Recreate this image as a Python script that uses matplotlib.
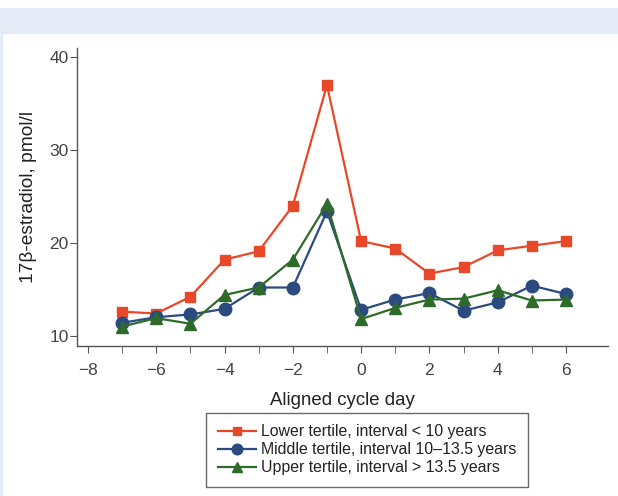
import numpy as np
import matplotlib.pyplot as plt
from matplotlib.patches import Rectangle

plt.rcParams['font.family'] = ['Liberation Sans', 'DejaVu Sans']

# data
days = [-7, -6, -5, -4, -3, -2, -1, 0, 1, 2, 3, 4, 5, 6]
lower = [12.6, 12.4, 14.2, 18.2, 19.1, 24.0, 37.0, 20.2, 19.4, 16.7, 17.4, 19.2, 19.7, 20.2]
middle = [11.4, 12.0, 12.3, 12.9, 15.2, 15.2, 23.4, 12.8, 13.9, 14.6, 12.7, 13.6, 15.4, 14.5]
upper = [11.0, 11.9, 11.3, 14.4, 15.2, 18.2, 24.2, 11.8, 13.0, 13.9, 14.0, 14.9, 13.8, 13.9]
labels = ['Lower tertile, interval < 10 years',
          'Middle tertile, interval 10\u201313.5 years',
          'Upper tertile, interval > 13.5 years']

fig = plt.figure(figsize=(6.18, 4.96), dpi=100)
# light blue frame band at the top and thin stripe at left
fig.patches.append(Rectangle((0, 1 - 33/496), 1, 25/496, transform=fig.transFigure,
                             color='#e4ebf6', zorder=0))
fig.patches.append(Rectangle((0, 0), 2/618, 1 - 33/496, transform=fig.transFigure,
                             color='#e4ebf6', zorder=0))

ax = fig.add_axes([77/618, 150/496, 531/618, 298/496])
ax.patch.set_alpha(0)

ax.plot(days, lower, '-s', color='#e8482a', mfc='#e8482a', mec='#e8482a', ms=7.5, lw=1.6, label=labels[0])
ax.plot(days, middle, '-o', color='#2b4a80', mfc='#2b4a80', mec='#2b4a80', ms=9, lw=1.6, label=labels[1])
ax.plot(days, upper, '-^', color='#2e6b2b', mfc='#2e6b2b', mec='#2e6b2b', ms=8.5, lw=1.6, label=labels[2])

ax.set_xlim(-8.32, 7.23)
ax.set_ylim(8.9, 41.0)
ax.set_xticks(np.arange(-8, 7, 2))
ax.set_xticks(np.arange(-8, 7, 1), minor=True)
ax.set_yticks([10, 20, 30, 40])
ax.set_xticklabels(['\u22128', '\u22126', '\u22124', '\u22122', '0', '2', '4', '6'])

for s in ['top', 'right']:
    ax.spines[s].set_visible(False)
for s in ['left', 'bottom']:
    ax.spines[s].set_color('#555555')
    ax.spines[s].set_linewidth(1.0)
ax.tick_params(which='both', direction='out', length=5, color='#555555',
               labelsize=12.5, labelcolor='#444444')
ax.tick_params(axis='x', pad=7)
ax.tick_params(axis='y', pad=1)

ax.set_xlabel('Aligned cycle day', fontsize=13.4, color='#222222', labelpad=10)
ax.set_ylabel('17\u03b2-estradiol, pmol/l', fontsize=13.8, color='#222222', labelpad=9)

leg = ax.legend(loc='upper center', bbox_to_anchor=((367 - 77)/531, -67/298), fontsize=11.4,
                frameon=True, fancybox=False, edgecolor='#444444', handlelength=2.4,
                handletextpad=0.35, borderpad=0.7, labelspacing=0.2, markerscale=0.85,
                borderaxespad=0)
leg.get_frame().set_linewidth(1.0)
for t in leg.get_texts():
    t.set_color('#222222')

fig.savefig('out.png', dpi=100)
